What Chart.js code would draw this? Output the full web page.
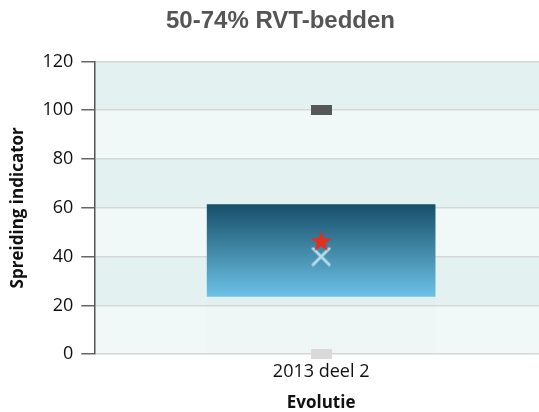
<!DOCTYPE html>
<html>
<head>
<meta charset="utf-8">
<script src="https://cdn.jsdelivr.net/npm/chart.js@4"></script>
<style>
  html, body { margin: 0; padding: 0; overflow: hidden; background: #fff; }
  #wrap { width: 553px; height: 412px; }
</style>
</head>
<body>
<div id="wrap"><canvas id="chart"></canvas></div>
<script>
// Data
const categories = ["2013 deel 2"];
const lowerQuartile = [23.5];
const upperQuartile = [61.5];
const bottomBase = [0];
const average = [40];
const ownValue = [46.5];
const maximum = [100];
const minimum = [0];
const yTicks = [0, 20, 40, 60, 80, 100, 120];

// Star image for the own value marker
function makeStar(r, color) {
  const c = document.createElement("canvas");
  c.width = c.height = r * 2 + 2;
  const g = c.getContext("2d");
  g.fillStyle = color;
  g.beginPath();
  for (let i = 0; i < 10; i++) {
    const rad = i % 2 === 0 ? r : r * 0.42;
    const a = -Math.PI / 2 + i * Math.PI / 5;
    g.lineTo(c.width / 2 + rad * Math.cos(a), c.height / 2 + 1 + rad * Math.sin(a));
  }
  g.closePath();
  g.fill();
  return c;
}

// X image for the average
function makeCross(r, color) {
  const c = document.createElement("canvas");
  c.width = c.height = r * 2 + 4;
  const g = c.getContext("2d");
  g.strokeStyle = color;
  g.lineWidth = 3;
  g.lineCap = "round";
  const m = c.width / 2;
  g.beginPath();
  g.moveTo(m - r, m - r); g.lineTo(m + r, m + r);
  g.moveTo(m + r, m - r); g.lineTo(m - r, m + r);
  g.stroke();
  return c;
}

// Dash marker for min / max
function makeDash(w, h, color) {
  const c = document.createElement("canvas");
  c.width = w; c.height = h;
  const g = c.getContext("2d");
  g.fillStyle = color;
  g.fillRect(0, 0, w, h);
  return c;
}

// Alternating bands behind the plot
const bandPlugin = {
  id: "bands",
  beforeDraw(chart) {
    const { ctx, chartArea, scales } = chart;
    const y = scales.y;
    for (let i = 0; i < yTicks.length - 1; i++) {
      const top = y.getPixelForValue(yTicks[i + 1]);
      const bot = y.getPixelForValue(yTicks[i]);
      ctx.fillStyle = i % 2 === 0 ? "#f1f8f8" : "#e3f2f1";
      ctx.fillRect(chartArea.left, top, chartArea.right - chartArea.left, bot - top);
    }
  }
};

const font = "'Open Sans', 'Noto Sans', sans-serif";

new Chart(document.getElementById("chart"), {
  type: "bar",
  plugins: [bandPlugin],
  data: {
    labels: categories,
    datasets: [
      {
        type: "line",
        data: ownValue,
        showLine: false,
        clip: false,
        pointStyle: makeStar(11, "#e0311f"),
        order: 0
      },
      {
        type: "line",
        data: average,
        showLine: false,
        clip: false,
        pointStyle: makeCross(8, "#b4dcec"),
        order: 1
      },
      {
        type: "line",
        data: maximum,
        showLine: false,
        clip: false,
        pointStyle: makeDash(21, 10, "#555759"),
        order: 1
      },
      {
        type: "line",
        data: minimum,
        showLine: false,
        clip: false,
        pointStyle: makeDash(21, 10, "#d9d9d9"),
        order: 1
      },
      {
        data: categories.map((_, i) => [lowerQuartile[i], upperQuartile[i]]),
        backgroundColor: (ctx) => {
          const area = ctx.chart.chartArea;
          if (!area) return "#3a7f9f";
          const y = ctx.chart.scales.y;
          const g = ctx.chart.ctx.createLinearGradient(0, y.getPixelForValue(upperQuartile[0]), 0, y.getPixelForValue(lowerQuartile[0]));
          g.addColorStop(0, "#164f69");
          g.addColorStop(1, "#6dc2e6");
          return g;
        },
        barPercentage: 0.7,
        categoryPercentage: 0.72,
        grouped: false,
        order: 2
      },
      {
        data: categories.map((_, i) => [bottomBase[i], lowerQuartile[i]]),
        backgroundColor: "rgba(180,190,190,0.03)",
        barPercentage: 0.7,
        categoryPercentage: 0.72,
        grouped: false,
        order: 3
      }
    ]
  },
  options: {
    responsive: true,
    maintainAspectRatio: false,
    animation: false,
    layout: { padding: { left: 8, right: 0, top: 0, bottom: 0 } },
    plugins: {
      legend: { display: false },
      tooltip: { enabled: false },
      title: {
        display: true,
        text: "50-74% RVT-bedden",
        color: "#555555",
        font: { family: "'Liberation Sans', Arial, sans-serif", size: 24, weight: "bold", lineHeight: 1.1 },
        padding: { top: 8, bottom: 27 }
      }
    },
    scales: {
      x: {
        grid: { display: false, drawTicks: false },
        border: { display: false },
        ticks: { color: "#111", font: { family: font, size: 18, lineHeight: 1.1 }, padding: 8 },
        title: {
          display: true,
          text: "Evolutie",
          color: "#111",
          font: { family: font, size: 17, weight: "bold", lineHeight: 1.0 },
          padding: { top: 5, bottom: 0 }
        }
      },
      y: {
        min: 0,
        max: 120,
        afterBuildTicks: (axis) => { axis.ticks = yTicks.map((v) => ({ value: v })); },
        grid: {
          color: "#d6d8d8",
          lineWidth: 1.5,
          tickColor: "#666",
          tickLength: 13,
          tickWidth: 1.5
        },
        border: { display: true, color: "#555", width: 1.5 },
        ticks: { color: "#111", font: { family: font, size: 18 }, padding: 8 },
        title: {
          display: true,
          text: "Spreiding indicator",
          color: "#111",
          font: { family: font, size: 17, weight: "bold" },
          padding: { top: 0, bottom: 6 }
        }
      }
    }
  }
});
</script>
</body>
</html>
